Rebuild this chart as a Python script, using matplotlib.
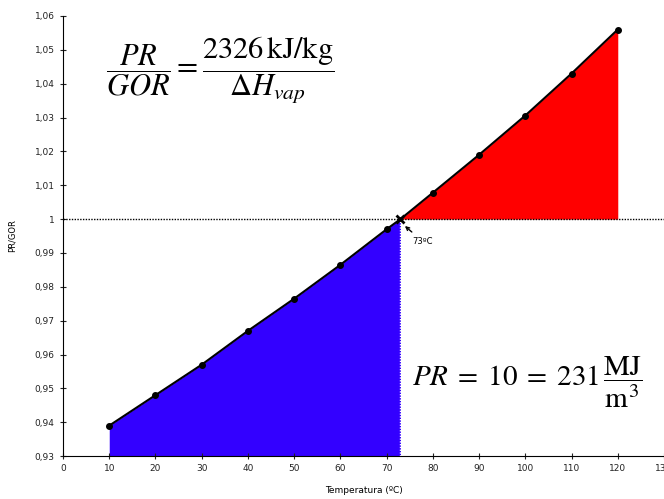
import numpy as np
import matplotlib.pyplot as plt
import matplotlib as mpl
from matplotlib.ticker import FuncFormatter

mpl.rcParams['mathtext.fontset'] = 'stix'

# dados
temperatura = [10, 20, 30, 40, 50, 60, 70, 80, 90, 100, 110, 120]
pr_gor = [0.939, 0.948, 0.957, 0.967, 0.9765, 0.9865, 0.997,
          1.0078, 1.019, 1.0306, 1.043, 1.056]
t_cruz = 73
y_ticks = [0.93, 0.94, 0.95, 0.96, 0.97, 0.98, 0.99, 1.0,
           1.01, 1.02, 1.03, 1.04, 1.05, 1.06]
x_ticks = list(range(0, 140, 10))

t = np.array(temperatura, dtype=float)
y = np.array(pr_gor)

# curva com o ponto de cruzamento incluído
t_full = np.insert(t, 7, t_cruz)
y_full = np.insert(y, 7, 1.0)

fig = plt.figure(figsize=(6.64, 4.99), dpi=100)
ax = fig.add_axes([0.0949, 0.086, 0.9051, 0.882])

baixo = t_full <= t_cruz
cima = t_full >= t_cruz
ax.fill_between(t_full[baixo], 0.93, y_full[baixo], color='#3300ff', lw=0)
ax.fill_between(t_full[cima], 1.0, y_full[cima], color='#ff0000', lw=0)

ax.axhline(1.0, color='black', ls=(0, (1, 1)), lw=1)
ax.plot([t_cruz, t_cruz], [0.93, 1.0], color='white', ls=(0, (1, 1)), lw=1)

ax.plot(t_full, y_full, color='black', lw=1.5)
ax.plot(t, y, 'o', color='black', ms=4)
ax.plot([t_cruz], [1.0], 'x', color='black', ms=6, mew=2)

ax.annotate('73ºC', xy=(t_cruz + 0.5, 0.9985), xytext=(t_cruz + 2.5, 0.9935),
            fontsize=6, ha='left', va='center',
            arrowprops=dict(arrowstyle='->', color='black', lw=1))

ax.set_xlim(0, 130)
ax.set_ylim(0.93, 1.06)
ax.set_xticks(x_ticks)
ax.set_yticks(y_ticks)

def virgula(v, pos):
    s = ('%.2f' % v).rstrip('0').rstrip('.')
    return s.replace('.', ',')

ax.yaxis.set_major_formatter(FuncFormatter(virgula))
ax.tick_params(labelsize=6.5, direction='inout', length=5, width=0.8, colors='#222222')
ax.spines['top'].set_visible(False)
ax.spines['right'].set_visible(False)

ax.set_xlabel('Temperatura (ºC)', fontsize=6.5, labelpad=9)
ax.set_ylabel('PR/GOR', fontsize=6, labelpad=13)

fig.text(0.16, 0.86, r'$\dfrac{PR}{GOR} = \dfrac{2326\,\mathrm{kJ/kg}}{\Delta H_{vap}}$',
         fontsize=22, ha='left', va='center')
fig.text(0.62, 0.235, r'$PR\;=\;10\;=\;231\,\dfrac{\mathrm{MJ}}{\mathrm{m}^3}$',
         fontsize=21, ha='left', va='center')

fig.savefig('out.png', dpi=100)
